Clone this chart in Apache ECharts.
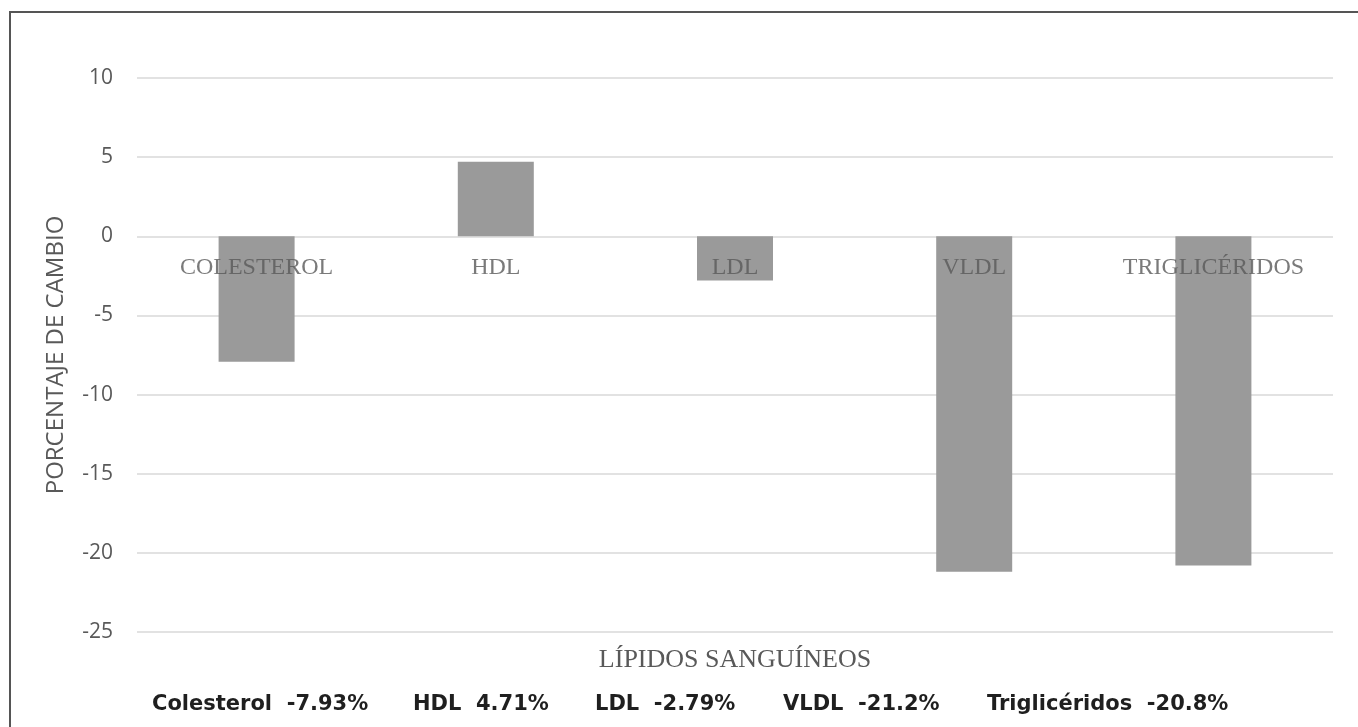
<!DOCTYPE html>
<html>
<head>
<meta charset="utf-8">
<title>Lípidos sanguíneos</title>
<script src="https://cdn.jsdelivr.net/npm/echarts@6/dist/echarts.min.js"></script>
<style>
  html, body { margin: 0; padding: 0; background: #ffffff; }
  #chart { width: 1358px; height: 727px; }
</style>
</head>
<body>
<div id="chart"></div>
<script>
// Lipid groups and their percentage change
const lipids = ['Colesterol', 'HDL', 'LDL', 'VLDL', 'Triglicéridos'];
const percentChange = [-7.93, 4.71, -2.79, -21.2, -20.8];
// Value axis ticks
const yTicks = [-25, -20, -15, -10, -5, 0, 5, 10];

const xAxisTitle = 'LÍPIDOS SANGUÍNEOS';
const yAxisTitle = 'PORCENTAJE DE CAMBIO';

const chart = echarts.init(document.getElementById('chart'), null, { renderer: 'canvas' });

// Left edges of the summary entries along the bottom line
const summaryLeft = [152, 413, 595, 783, 987];

const summaryTexts = lipids.map((name, i) => ({
  type: 'text',
  left: summaryLeft[i],
  top: 694,
  z: 20,
  style: {
    text: name + '  ' + percentChange[i] + '%',
    font: 'bold 21px "DejaVu Sans"',
    fill: '#1f1f1f'
  }
}));

const option = {
  backgroundColor: '#ffffff',
  animation: false,
  grid: { left: 137, right: 25, top: 78, bottom: 95, containLabel: false },
  xAxis: {
    type: 'category',
    data: lipids,
    axisLine: { show: false },
    axisTick: { show: false },
    splitLine: { show: false },
    axisLabel: { show: false }
  },
  yAxis: {
    type: 'value',
    min: yTicks[0],
    max: yTicks[yTicks.length - 1],
    interval: yTicks[1] - yTicks[0],
    name: yAxisTitle,
    nameLocation: 'middle',
    nameRotate: 90,
    nameGap: 69,
    nameTextStyle: {
      color: '#595959',
      fontFamily: '"Open Sans", sans-serif',
      fontSize: 24
    },
    axisLine: { show: false },
    axisTick: { show: false },
    axisLabel: {
      margin: 24,
      color: '#595959',
      fontFamily: '"Open Sans", sans-serif',
      fontSize: 21
    },
    splitLine: { show: true, lineStyle: { color: '#d9d9d9', width: 1.5 } }
  },
  series: [
    {
      type: 'bar',
      data: percentChange,
      barWidth: 76,
      itemStyle: { color: '#9a9a9a' },
      z: 2
    },
    {
      // category names hang just under the zero line, drawn over the bars
      type: 'scatter',
      data: lipids.map(name => [name, 0]),
      symbolSize: 0,
      silent: true,
      z: 5,
      label: {
        show: true,
        position: 'bottom',
        distance: 19,
        formatter: p => p.name.toUpperCase(),
        color: '#595959',
        fontFamily: '"Liberation Serif", "Times New Roman", serif',
        fontSize: 24
      }
    }
  ],
  graphic: [
    {
      type: 'rect',
      z: 30,
      shape: { x: 10, y: 12, width: 1400, height: 800 },
      style: { fill: 'none', stroke: '#555555', lineWidth: 2 }
    },
    {
      type: 'text',
      x: 735,
      y: 660,
      z: 20,
      style: {
        text: xAxisTitle,
        font: '26px "Liberation Serif", "Times New Roman", serif',
        fill: '#595959',
        textAlign: 'center',
        textVerticalAlign: 'middle'
      }
    },
    ...summaryTexts
  ]
};

chart.setOption(option);
</script>
</body>
</html>
